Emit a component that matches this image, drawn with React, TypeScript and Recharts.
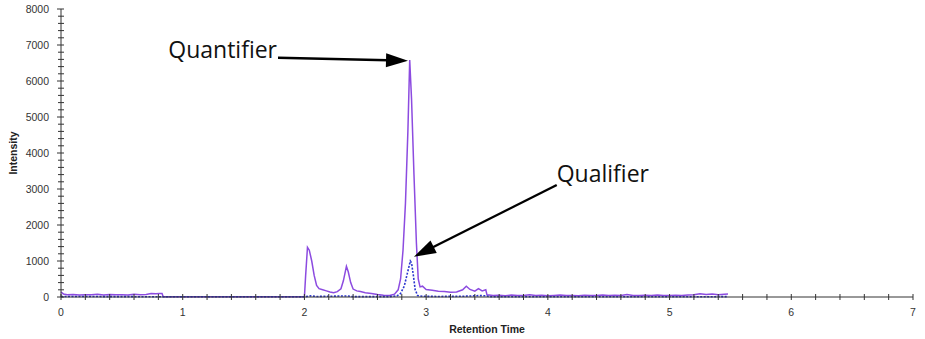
import { LineChart, Line, XAxis, YAxis, ReferenceLine } from 'recharts';

// quantifier trace (purple, solid)
const quantTime = [
  0, 0.02, 0.05, 0.1, 0.15, 0.2, 0.25, 0.3, 0.35, 0.4, 0.45, 0.5, 0.55, 0.6, 0.65, 0.7, 0.74, 0.78, 0.81, 0.83,
  0.84, 1.2, 1.6, 1.99,
  2.0, 2.01, 2.025, 2.04, 2.06, 2.08, 2.1, 2.12, 2.15, 2.18, 2.21, 2.24, 2.27, 2.3, 2.32, 2.345, 2.36, 2.38, 2.4,
  2.43, 2.46, 2.5, 2.55, 2.6, 2.65, 2.7, 2.74, 2.77, 2.79, 2.81, 2.83, 2.85, 2.865, 2.88, 2.9, 2.92, 2.935, 2.95,
  2.97, 3.0, 3.05, 3.1, 3.15, 3.2, 3.25, 3.3, 3.33, 3.36, 3.4, 3.43, 3.46, 3.49, 3.5,
  3.55, 3.6, 3.65, 3.7, 3.75, 3.8, 3.85, 3.9, 3.95, 4.0, 4.05, 4.1, 4.15, 4.2, 4.25, 4.3, 4.35, 4.4, 4.45, 4.5,
  4.55, 4.6, 4.65, 4.7, 4.75, 4.8, 4.85, 4.9, 4.95, 5.0, 5.05, 5.1, 5.15, 5.2, 5.25, 5.3, 5.35, 5.4, 5.45, 5.48,
];
const quantIntensity = [
  140, 85, 60, 70, 55, 65, 60, 75, 55, 70, 60, 65, 55, 75, 60, 70, 100, 90, 100, 95,
  5, 5, 5, 5,
  5, 600, 1380, 1300, 1000, 600, 320, 230, 200, 170, 140, 120, 150, 230, 450, 850, 700, 400, 220,
  170, 150, 120, 100, 70, 50, 40, 80, 200, 500, 1300, 2600, 4600, 6580, 5500, 3400, 1500, 500, 280,
  300, 210, 190, 160, 150, 130, 140, 200, 300, 210, 160, 230, 170, 200, 60,
  40, 50, 35, 55, 40, 45, 60, 40, 50, 35, 45, 55, 40, 45, 35, 50, 40, 45, 55, 40,
  50, 45, 70, 45, 40, 50, 40, 55, 45, 40, 50, 45, 55, 60, 90, 70, 85, 60, 75, 80,
];

// qualifier trace (blue, dotted)
const qualTime = [
  0, 0.5, 1.0, 1.5, 2.0, 2.05, 2.1, 2.35, 2.4, 2.7, 2.76, 2.79, 2.82, 2.845, 2.87, 2.88, 2.895, 2.91, 2.93,
  2.97, 3.1, 3.3, 3.45, 3.5, 3.52, 4.0, 4.5, 5.0, 5.48,
];
const qualIntensity = [
  15, 10, 5, 5, 5, 30, 15, 30, 10, 10, 30, 100, 300, 650, 1000, 950, 600, 200, 40,
  20, 15, 20, 40, 30, 5, 5, 8, 5, 10,
];

const xTicks = [
  0, 0.2, 0.4, 0.6, 0.8, 1, 1.2, 1.4, 1.6, 1.8, 2, 2.2, 2.4, 2.6, 2.8, 3, 3.2, 3.4, 3.6, 3.8, 4,
  4.2, 4.4, 4.6, 4.8, 5, 5.2, 5.4, 5.6, 5.8, 6, 6.2, 6.4, 6.6, 6.8, 7,
];
const yTicks = [
  0, 200, 400, 600, 800, 1000, 1200, 1400, 1600, 1800, 2000, 2200, 2400, 2600, 2800, 3000, 3200, 3400,
  3600, 3800, 4000, 4200, 4400, 4600, 4800, 5000, 5200, 5400, 5600, 5800, 6000, 6200, 6400, 6600, 6800,
  7000, 7200, 7400, 7600, 7800, 8000,
];

// arrow annotations: [start, tip] in data units
const quantArrow = [{ x: 1.783, y: 6647 }, { x: 2.851, y: 6564 }];
const qualArrow = [{ x: 4.073, y: 3111 }, { x: 2.9, y: 1120 }];

const quantData = quantTime.map((t, i) => ({ t, v: quantIntensity[i] }));
const qualData = qualTime.map((t, i) => ({ t, v: qualIntensity[i] }));

const AXIS = '#333';
const TICK_FONT = '"Liberation Sans", Arial, sans-serif';

function XTick({ x, y, payload }: any) {
  const major = Number.isInteger(payload.value);
  return (
    <g>
      <line x1={x} x2={x} y1={y - 3} y2={y + 3} stroke={AXIS} />
      {major && (
        <text x={x} y={y + 19} textAnchor="middle" fontSize={10.5} fontFamily={TICK_FONT} fill="#333">
          {payload.value}
        </text>
      )}
    </g>
  );
}

function YTick({ x, y, payload }: any) {
  const major = payload.value % 1000 === 0;
  return (
    <g>
      <line x1={major ? x - 4 : x - 3} x2={x + 3} y1={y} y2={y} stroke={AXIS} />
      {major && (
        <text x={x - 12} y={y + 3.7} textAnchor="end" fontSize={10.5} fontFamily={TICK_FONT} fill="#333">
          {payload.value}
        </text>
      )}
    </g>
  );
}

function Arrow({ x1, y1, x2, y2, text, side }: any) {
  const dx = x2 - x1;
  const dy = y2 - y1;
  const len = Math.hypot(dx, dy);
  const ux = dx / len;
  const uy = dy / len;
  const head = 22;
  const half = 7;
  const bx = x2 - ux * head;
  const by = y2 - uy * head;
  const pts = `${x2},${y2} ${bx - uy * half},${by + ux * half} ${bx + uy * half},${by - ux * half}`;
  return (
    <g>
      <line x1={x1} y1={y1} x2={bx + ux * 2} y2={by + uy * 2} stroke="#000" strokeWidth={2.4} />
      <polygon points={pts} fill="#000" />
      <text
        x={side === 'left' ? x1 - 1 : x1}
        y={side === 'left' ? y1 : y1 - 3}
        textAnchor={side === 'left' ? 'end' : 'start'}
        fontSize={23}
        fontFamily='"Open Sans", sans-serif'
        fill="#111"
      >
        {text}
      </text>
    </g>
  );
}

export default function App() {
  return (
    <div>
      <style>{'body{margin:0}'}</style>
      <LineChart width={925} height={339} margin={{ top: 9, right: 12, left: 0, bottom: 0 }}>
        <XAxis
          type="number"
          dataKey="t"
          domain={[0, 7]}
          ticks={xTicks}
          interval={0}
          height={42}
          tickSize={0}
          tickMargin={0}
          tickLine={false}
          tick={<XTick />}
          axisLine={{ stroke: AXIS }}
          allowDuplicatedCategory={false}
          label={{
            value: 'Retention Time',
            position: 'insideBottom',
            offset: 6,
            style: { fontSize: 10.5, fontWeight: 700, fontFamily: TICK_FONT, fill: '#222' },
          }}
        />
        <YAxis
          type="number"
          dataKey="v"
          domain={[0, 8000]}
          ticks={yTicks}
          interval={0}
          width={61}
          tickSize={0}
          tickMargin={0}
          tickLine={false}
          tick={<YTick />}
          axisLine={{ stroke: AXIS }}
          label={{
            content: ({ viewBox }: any) => (
              <text
                x={viewBox.x + 13}
                y={viewBox.y + viewBox.height / 2}
                transform={`rotate(-90 ${viewBox.x + 13} ${viewBox.y + viewBox.height / 2})`}
                textAnchor="middle"
                dominantBaseline="central"
                fontSize={10.5}
                fontWeight={700}
                fontFamily={TICK_FONT}
                fill="#222"
              >
                Intensity
              </text>
            ),
          }}
        />
        <Line
          data={quantData}
          dataKey="v"
          type="linear"
          stroke="#8c4be0"
          strokeWidth={1.5}
          dot={false}
          isAnimationActive={false}
        />
        <Line
          data={qualData}
          dataKey="v"
          type="linear"
          stroke="#2a35d0"
          strokeWidth={1.6}
          strokeDasharray="2 1.5"
          dot={false}
          isAnimationActive={false}
        />
        <ReferenceLine
          segment={quantArrow}
          ifOverflow="visible"
          shape={(p: any) => <Arrow {...p} text="Quantifier" side="left" />}
        />
        <ReferenceLine
          segment={qualArrow}
          ifOverflow="visible"
          shape={(p: any) => <Arrow {...p} text="Qualifier" side="right" />}
        />
      </LineChart>
    </div>
  );
}
